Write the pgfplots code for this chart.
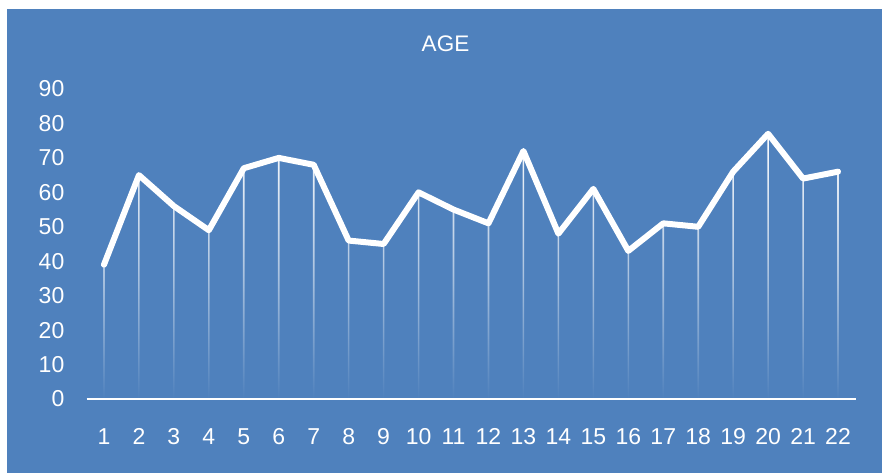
\documentclass[border=0pt]{standalone}
\usepackage{pgfplots}
\pgfplotsset{compat=1.18}
\usepackage{fontspec}
\setmainfont{Liberation Sans}
\definecolor{bg}{RGB}{79,129,189}
\begin{document}
\begin{tikzpicture}[x=1pt,y=1pt]
\useasboundingbox (0,0) rectangle (882,475);
\fill[white] (0,0) rectangle (882,475);
\fill[bg] (7,2) rectangle (882,466);
\node[white, font=\fontsize{22.5}{26}\selectfont] at (445.5,431.7) {AGE};
\begin{axis}[
  at={(86.5pt,76pt)}, anchor=south west, scale only axis,
  width=769pt, height=310pt,
  xmin=0.5, xmax=22.5, ymin=0, ymax=90,
  xtick={1,...,22}, ytick={0,10,...,90},
  axis line style={draw=none},
  major tick length=0pt,
  /pgf/number format/assume math mode=true,
  tick label style={white, font=\fontsize{23}{27}\selectfont, inner sep=0pt},
  yticklabel style={anchor=east, xshift=-22pt},
  xticklabel style={anchor=north, yshift=-29pt},
  clip=false,
]
\addplot[ybar, bar width=1.6pt, draw=none, shading=axis, top color=white, bottom color=bg, middle color=white!55!bg] coordinates {
(1,39) (2,65) (3,56) (4,49) (5,67) (6,70) (7,68) (8,46) (9,45) (10,60) (11,55)
(12,51) (13,72) (14,48) (15,61) (16,43) (17,51) (18,50) (19,66) (20,77) (21,64) (22,66)};
\draw[white, line width=2pt] (axis cs:0.5,0) -- (axis cs:22.5,0);
\addplot[white, line width=6pt, line join=round, line cap=round, mark=none] coordinates {
(1,39) (2,65) (3,56) (4,49) (5,67) (6,70) (7,68) (8,46) (9,45) (10,60) (11,55)
(12,51) (13,72) (14,48) (15,61) (16,43) (17,51) (18,50) (19,66) (20,77) (21,64) (22,66)};
\end{axis}
\end{tikzpicture}
\end{document}
